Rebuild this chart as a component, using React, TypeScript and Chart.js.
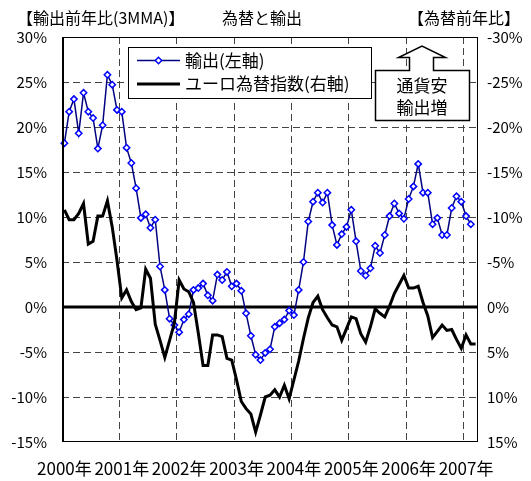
import { useEffect, useRef } from 'react';
import { Chart, registerables } from 'chart.js';

Chart.register(...registerables);

const years = ['2000', '2001', '2002', '2003', '2004', '2005', '2006', '2007'];
const yearTickLabels = ['2000年', '2001年', '2002年', '2003年', '2004年', '2005年', '2006年', '2007年'];
const monthNames = ['1', '2', '3', '4', '5', '6', '7', '8', '9', '10', '11', '12'];
const monthCount = 87; // 2000/1 - 2007/3

const categories: string[] = [];
years.forEach((y) => monthNames.forEach((m) => categories.push(`${y}/${m}`)));
categories.length = monthCount;

// 輸出 前年比 (3MMA) 左軸, %
const exportsYoY = [
  18.2, 21.7, 23.1, 19.3, 23.8, 21.7, 21.0, 17.6, 20.2, 25.8, 24.7, 21.9,
  21.7, 17.7, 16.0, 13.2, 9.9, 10.3, 8.8, 9.7, 4.5, 1.9, -1.3, -2.0,
  -2.8, -1.4, -0.8, 1.9, 2.1, 2.6, 1.3, 0.7, 3.6, 3.0, 3.9, 2.3,
  2.6, 1.8, -0.7, -3.2, -5.3, -5.9, -5.1, -4.7, -2.2, -1.8, -1.4, -0.4,
  -0.9, 1.9, 5.0, 9.5, 11.7, 12.7, 11.6, 12.7, 9.1, 6.9, 8.1, 8.9,
  10.8, 7.3, 4.0, 3.5, 4.3, 6.8, 6.0, 8.0, 10.1, 11.5, 10.4, 9.8,
  12.0, 13.4, 15.9, 12.7, 12.7, 9.2, 9.9, 8.0, 8.0, 11.0, 12.3, 11.7,
  10.1, 9.2,
];

// ユーロ為替指数 前年比 右軸 (反転), %
const euroYoY = [
  -10.8, -9.7, -9.7, -10.4, -11.5, -7.0, -7.3, -10.1, -10.1, -11.8, -8.9, -5.2,
  -1.0, -1.9, -0.6, 0.3, 0.1, -4.2, -3.2, 1.9, 3.7, 5.6, 3.7, 1.8,
  -3.0, -2.0, -1.7, -0.5, 2.9, 6.5, 6.5, 3.1, 3.1, 3.3, 5.7, 5.9,
  8.1, 10.5, 11.3, 11.9, 13.9, 12.0, 10.0, 9.8, 9.2, 10.0, 8.7, 10.2,
  8.1, 6.0, 3.5, 1.2, -0.5, -1.2, 0.3, 1.2, 2.0, 2.2, 3.7, 2.4,
  1.1, 1.3, 3.0, 3.9, 2.2, 0.2, 0.7, 1.1, -0.1, -1.5, -2.5, -3.5,
  -2.1, -2.1, -2.3, -0.5, 1.0, 3.4, 2.7, 2.0, 2.6, 2.5, 3.6, 4.6,
  3.1, 4.1, 4.1,
];

const seriesNames = ['輸出(左軸)', 'ユーロ為替指数(右軸)'];
const chartTitle = '為替と輸出';
const leftAxisTitle = '【輸出前年比(3MMA)】';
const rightAxisTitle = '【為替前年比】';
const noteLines = ['通貨安', '輸出増'];

const FONT = '"Noto Sans CJK JP", "Noto Sans", sans-serif';
const GRID = '#444444';
const LINE_BLUE = '#000080';
const MARK_BLUE = '#0000FF';

const decoPlugin = {
  id: 'deco',
  beforeDatasetsDraw(chart: any) {
    const { ctx, chartArea: a, scales } = chart;
    const y0 = scales.y.getPixelForValue(0);
    ctx.save();
    ctx.strokeStyle = '#000';
    ctx.lineWidth = 3;
    ctx.beginPath();
    ctx.moveTo(a.left, y0);
    ctx.lineTo(a.right, y0);
    ctx.stroke();
    ctx.restore();
  },
  afterDatasetsDraw(chart: any) {
    const { ctx, chartArea: a } = chart;
    ctx.save();
    // plot border
    ctx.strokeStyle = '#000';
    ctx.lineWidth = 1;
    ctx.strokeRect(a.left + 0.5, a.top + 0.5, a.right - a.left - 1, a.bottom - a.top - 1);
    ctx.lineWidth = 2;
    ctx.beginPath();
    ctx.moveTo(a.left + 1, a.top);
    ctx.lineTo(a.left + 1, a.bottom);
    ctx.stroke();

    // legend box
    const lx = 128, ly = 47, lw = 243, lh = 51;
    ctx.fillStyle = '#fff';
    ctx.fillRect(lx, ly, lw, lh);
    ctx.strokeStyle = '#000';
    ctx.lineWidth = 1;
    ctx.strokeRect(lx + 0.5, ly + 0.5, lw, lh);
    const r1 = 60.5, r2 = 84;
    ctx.strokeStyle = LINE_BLUE;
    ctx.lineWidth = 1.5;
    ctx.beginPath();
    ctx.moveTo(137, r1);
    ctx.lineTo(180, r1);
    ctx.stroke();
    ctx.beginPath();
    ctx.moveTo(158.5, r1 - 3.2);
    ctx.lineTo(161.7, r1);
    ctx.lineTo(158.5, r1 + 3.2);
    ctx.lineTo(155.3, r1);
    ctx.closePath();
    ctx.fillStyle = '#fff';
    ctx.fill();
    ctx.strokeStyle = MARK_BLUE;
    ctx.stroke();
    ctx.strokeStyle = '#000';
    ctx.lineWidth = 3;
    ctx.beginPath();
    ctx.moveTo(137, r2);
    ctx.lineTo(180, r2);
    ctx.stroke();
    ctx.fillStyle = '#000';
    ctx.font = `17px ${FONT}`;
    ctx.textBaseline = 'middle';
    ctx.textAlign = 'left';
    ctx.fillText(seriesNames[0], 185, r1);
    ctx.fillText(seriesNames[1], 185, r2);

    // arrow note box
    ctx.beginPath();
    ctx.moveTo(375.5, 70.5);
    ctx.lineTo(409.5, 70.5);
    ctx.lineTo(409.5, 57.5);
    ctx.lineTo(398.5, 57.5);
    ctx.lineTo(422, 46);
    ctx.lineTo(445.5, 57.5);
    ctx.lineTo(433.5, 57.5);
    ctx.lineTo(433.5, 70.5);
    ctx.lineTo(469.5, 70.5);
    ctx.lineTo(469.5, 120.5);
    ctx.lineTo(375.5, 120.5);
    ctx.closePath();
    ctx.fillStyle = '#fff';
    ctx.fill();
    ctx.strokeStyle = '#000';
    ctx.lineWidth = 1.5;
    ctx.stroke();
    ctx.fillStyle = '#000';
    ctx.textAlign = 'center';
    ctx.font = `17px ${FONT}`;
    ctx.fillText(noteLines[0], 422, 86);
    ctx.fillText(noteLines[1], 422, 108);

    // titles
    ctx.font = `16px ${FONT}`;
    ctx.textAlign = 'left';
    ctx.fillText(leftAxisTitle, 17, 18);
    ctx.textAlign = 'center';
    ctx.fillText(chartTitle, 262, 18);
    ctx.textAlign = 'left';
    ctx.fillText(rightAxisTitle, 408, 18);
    ctx.restore();
  },
};

export default function App() {
  const ref = useRef<HTMLCanvasElement | null>(null);
  useEffect(() => {
    if (!ref.current) return;
    const chart = new Chart(ref.current, {
      type: 'line',
      data: {
        labels: categories,
        datasets: [
          {
            label: seriesNames[1],
            data: euroYoY,
            yAxisID: 'y2',
            borderColor: '#000',
            borderWidth: 3,
            pointRadius: 0,
            tension: 0,
            order: 0,
          },
          {
            label: seriesNames[0],
            data: exportsYoY,
            yAxisID: 'y',
            borderColor: LINE_BLUE,
            borderWidth: 1.5,
            pointStyle: 'rectRot',
            pointRadius: 3.2,
            pointBorderWidth: 1.5,
            pointBackgroundColor: '#fff',
            pointBorderColor: MARK_BLUE,
            tension: 0,
            order: 1,
          },
        ],
      },
      options: {
        animation: false,
        responsive: false,
        devicePixelRatio: 1,
        layout: { padding: { top: 37, left: 0, right: 0, bottom: 0 } },
        plugins: {
          legend: { display: false },
          tooltip: { enabled: false },
          title: { display: false },
        },
        scales: {
          x: {
            type: 'category',
            offset: true,
            grid: {
              offset: true,
              drawTicks: false,
              lineWidth: 1,
              color: (c: any) => (c.index % 12 === 0 && c.index !== 0 && c.index < monthCount ? GRID : 'rgba(0,0,0,0)'),
            },
            border: { display: false, dash: [7, 4] },
            ticks: {
              autoSkip: false,
              maxRotation: 0,
              minRotation: 0,
              padding: 16,
              color: '#000',
              font: { family: FONT, size: 17 },
              callback: (_v: any, i: number) => (i % 12 === 0 ? yearTickLabels[i / 12] : ''),
            },
            afterFit: (s: any) => {
              s.height = 39;
            },
          },
          y: {
            position: 'left',
            min: -15,
            max: 30,
            grid: {
              drawTicks: false,
              lineWidth: 1,
              color: (c: any) => {
                const v = c.tick ? c.tick.value : 0;
                return v === 0 || v === 30 || v === -15 ? 'rgba(0,0,0,0)' : GRID;
              },
            },
            border: { display: false, dash: [7, 4] },
            ticks: {
              stepSize: 5,
              padding: 15,
              color: '#000',
              font: { family: FONT, size: 15 },
              callback: (v: any) => `${v}%`,
            },
            afterFit: (s: any) => {
              s.width = 62;
            },
          },
          y2: {
            position: 'right',
            min: -30,
            max: 15,
            reverse: true,
            grid: { drawOnChartArea: false, drawTicks: false },
            border: { display: false },
            ticks: {
              stepSize: 5,
              padding: 9,
              color: '#000',
              font: { family: FONT, size: 15 },
              callback: (v: any) => `${v}%`,
            },
            afterFit: (s: any) => {
              s.width = 53;
            },
          },
        },
      },
      plugins: [decoPlugin],
    });
    return () => chart.destroy();
  }, []);
  return (
    <div style={{ position: 'fixed', left: 0, top: 0, width: 531, height: 481, background: '#fff' }}>
      <canvas ref={ref} width={531} height={481} style={{ display: 'block' }} />
    </div>
  );
}
